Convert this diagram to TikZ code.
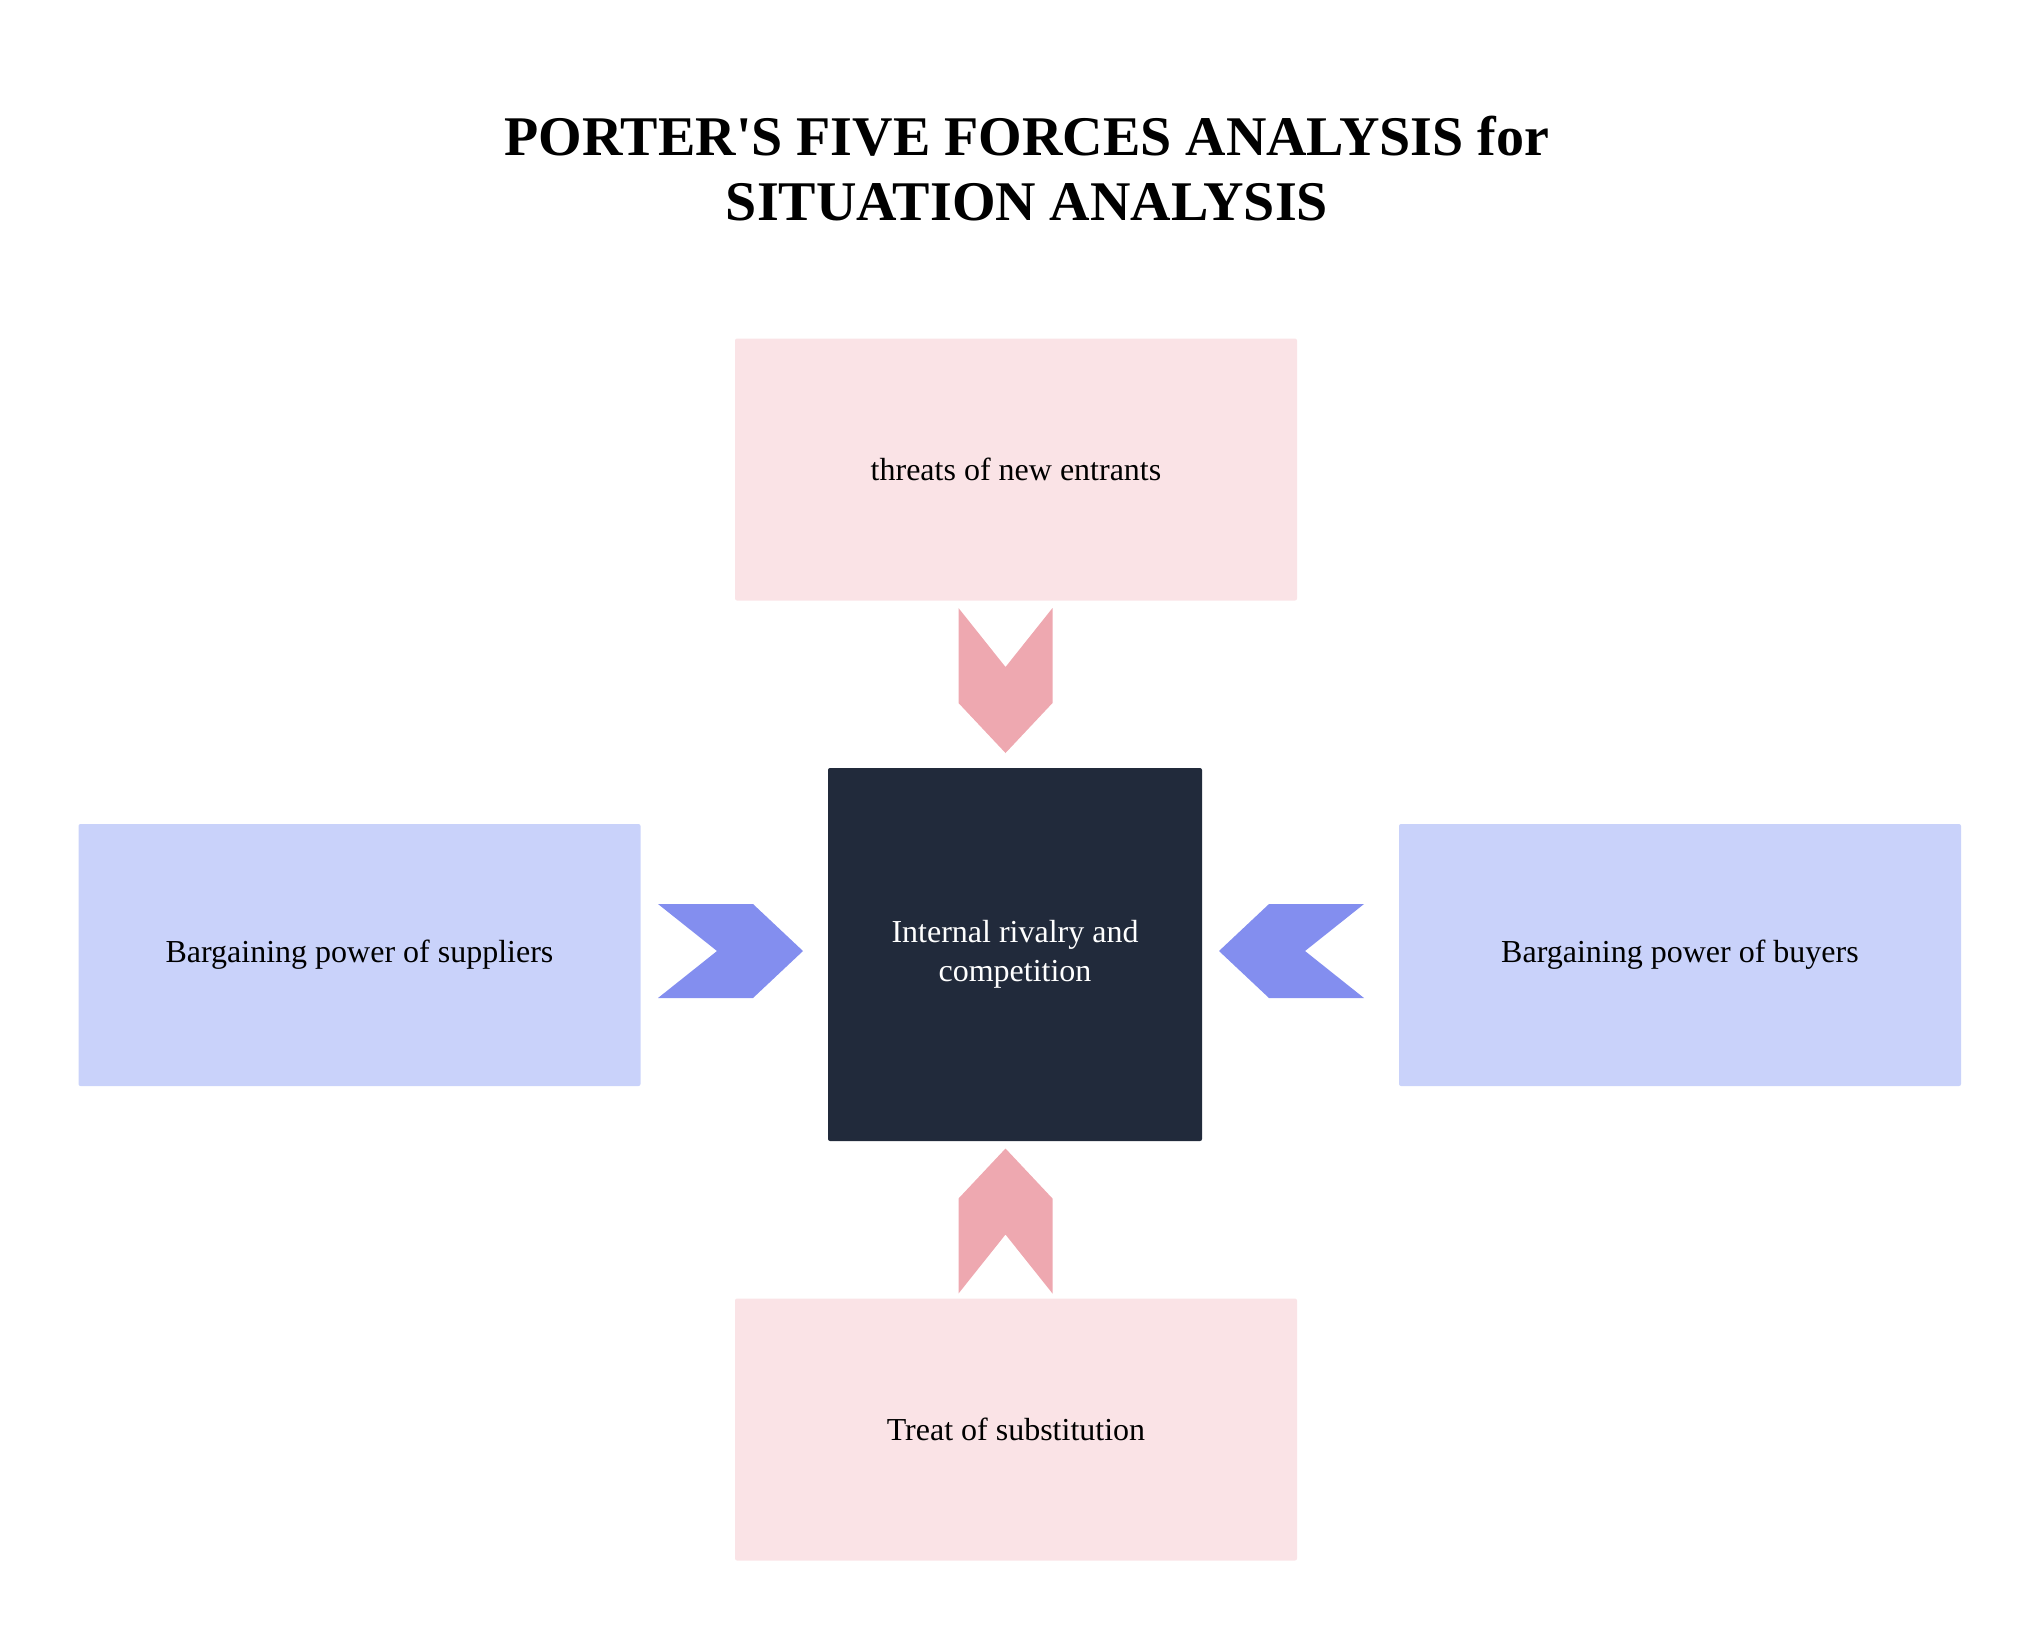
\documentclass[tikz,border=0pt]{standalone}
\usepackage{fontspec}
\setmainfont{Liberation Serif}
\usepackage{xcolor}
\usepackage{tikz}
\usetikzlibrary{shapes,arrows,positioning}

\definecolor{pinkbox}{HTML}{FAE3E6}
\definecolor{pinkarrow}{HTML}{EEA8B0}
\definecolor{bluebox}{HTML}{C9D2FA}
\definecolor{bluearrow}{HTML}{838EEF}
\definecolor{darkbox}{HTML}{212A3B}

\begin{document}
\begin{tikzpicture}[
        x=0.5pt, y=-0.5pt,
        forcebox/.style={
            rectangle,
            rounded corners=1pt,
            minimum width=281pt,
            minimum height=131pt,
            align=center,
            font=\fontsize{16}{19.5}\selectfont
            },
        chevron/.pic={
            \fill[#1] (-72.5,-47) -- (22.5,-47) -- (72.5,0) -- (22.5,47)
                -- (-72.5,47) -- (-13.5,0) -- cycle;
            }
    ]
                \useasboundingbox (0,0) rectangle (2040,1640);

                \node[
                    align=center,
                    font=\fontsize{28}{32.5}\selectfont\bfseries
                    ] (title) at (1027,169) {PORTER\textquotesingle S FIVE FORCES ANALYSIS for\\SITUATION ANALYSIS};

                \node[
                    forcebox,
                    fill=pinkbox
                    ] (entrants) at (1016,469.5) {threats of new entrants};

                \node[
                    forcebox,
                    fill=bluebox
                    ] (suppliers) at (359.5,955) {Bargaining power of suppliers};

                \node[
                    forcebox,
                    fill=bluebox
                    ] (buyers) at (1680,955) {Bargaining power of buyers};

                \node[
                    forcebox,
                    fill=pinkbox
                    ] (substitution) at (1016,1429.5) {Treat of substitution};

                \node[
                    forcebox,
                    fill=darkbox,
                    text=white,
                    minimum width=187pt,
                    minimum height=186.5pt
                    ] (rivalry) at (1015,954.5) {Internal rivalry and\\competition};

                \pic[rotate=-90] at (1005.5,680.5) {chevron=pinkarrow};
                \pic[rotate=90] at (1005.5,1221) {chevron=pinkarrow};
                \pic at (730.5,951) {chevron=bluearrow};
                \pic[rotate=180] at (1291.5,951) {chevron=bluearrow};

            \end{tikzpicture}
\end{document}
